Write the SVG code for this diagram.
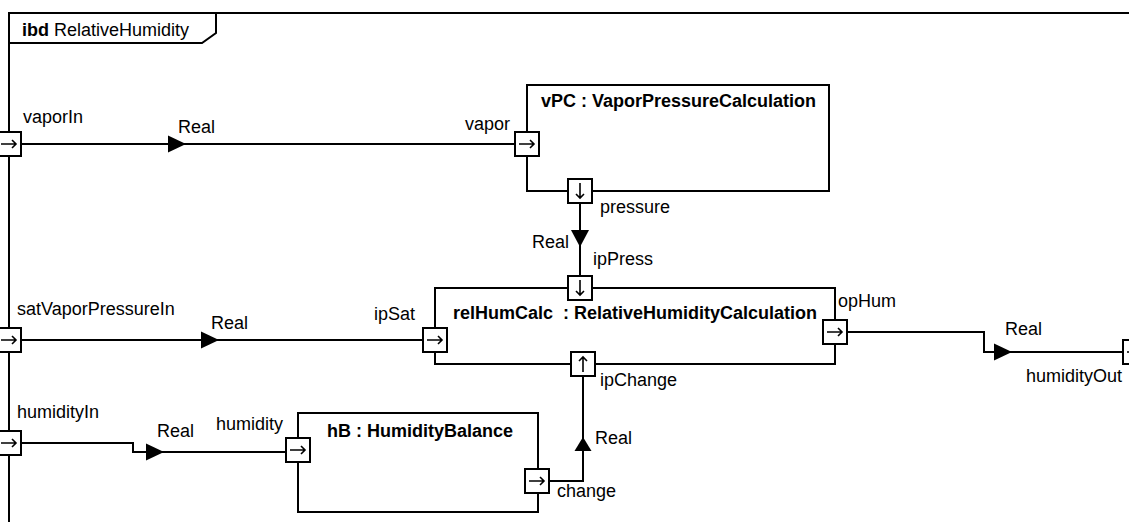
<svg xmlns="http://www.w3.org/2000/svg" xmlns:xlink="http://www.w3.org/1999/xlink" width="1129" height="522" viewBox="0 0 1129 522">
<style>
text{font-family:"Liberation Sans",Arial,sans-serif;font-size:18px;fill:#000}
.b{font-weight:bold}
.box{fill:#fff;stroke:#000;stroke-width:2}
.port{fill:#fff;stroke:#000;stroke-width:2}
.g{fill:none;stroke:#000;stroke-width:1.6}
.c{fill:none;stroke:#000;stroke-width:2}
.ah{fill:#000;stroke:none}
</style>
<defs>
<g id="pR"><rect class="port" x="-12" y="-12" width="24" height="24"/><path class="g" d="M-8,0H7M3,-4L7,0L3,4"/></g>
<g id="pD"><rect class="port" x="-12" y="-12" width="24" height="24"/><path class="g" d="M0,-8V7M-4,3L0,7L4,3"/></g>
<g id="pU"><rect class="port" x="-12" y="-12" width="24" height="24"/><path class="g" d="M0,8V-7M-4,-3L0,-7L4,-3"/></g>
</defs>

<g id="frame">
<path class="c" d="M9,522V13H1129"/>
<path class="c" d="M9,43H202L216,33V13"/>
<text x="22" y="36"><tspan class="b">ibd</tspan> RelativeHumidity</text>
</g>

<g id="connectors">
<path class="c" d="M21,144H515"/>
<polygon class="ah" points="168,135.5 186,144 168,152.5"/>
<text x="178" y="133">Real</text>

<path class="c" d="M580,203V276"/>
<polygon class="ah" points="571,230 589,230 580,247"/>
<text x="532" y="248">Real</text>

<path class="c" d="M21,340H423"/>
<polygon class="ah" points="201,331.5 219,340 201,348.5"/>
<text x="211" y="329">Real</text>

<path class="c" d="M847,332H984V352H1123"/>
<polygon class="ah" points="994,343.5 1012,352 994,360.5"/>
<text x="1005" y="335">Real</text>

<path class="c" d="M21,443H133V452H286"/>
<polygon class="ah" points="146,443.5 164,452 146,460.5"/>
<text x="157" y="437">Real</text>

<path class="c" d="M549,481H583V376"/>
<polygon class="ah" points="583,437 591.5,451 574.5,451"/>
<text x="595" y="444">Real</text>
</g>

<g id="vaporIn"><use xlink:href="#pR" x="9" y="144"/><text x="23" y="123">vaporIn</text></g>
<g id="satVaporPressureIn"><use xlink:href="#pR" x="9" y="340"/><text x="17" y="315">satVaporPressureIn</text></g>
<g id="humidityIn"><use xlink:href="#pR" x="9" y="443"/><text x="17" y="418">humidityIn</text></g>
<g id="humidityOut"><use xlink:href="#pR" x="1135" y="352"/><text x="1122" y="382" text-anchor="end">humidityOut</text></g>

<g id="vPC">
<rect class="box" x="527" y="85" width="302" height="106"/>
<text class="b" x="541" y="107">vPC : VaporPressureCalculation</text>
<use xlink:href="#pR" x="527" y="144"/>
<text x="510" y="130" text-anchor="end">vapor</text>
<use xlink:href="#pD" x="580" y="191"/>
<text x="600" y="213">pressure</text>
</g>

<g id="relHumCalc">
<rect class="box" x="435" y="288" width="400" height="76"/>
<text class="b" x="453" y="319" xml:space="preserve">relHumCalc  : RelativeHumidityCalculation</text>
<use xlink:href="#pD" x="580" y="288"/>
<text x="593" y="265">ipPress</text>
<use xlink:href="#pR" x="435" y="340"/>
<text x="415" y="320" text-anchor="end">ipSat</text>
<use xlink:href="#pR" x="835" y="332"/>
<text x="838" y="307">opHum</text>
<use xlink:href="#pU" x="583" y="364"/>
<text x="600" y="386">ipChange</text>
</g>

<g id="hB">
<rect class="box" x="298" y="413" width="240" height="99"/>
<text class="b" x="327" y="437">hB : HumidityBalance</text>
<use xlink:href="#pR" x="298" y="450"/>
<text x="283" y="430" text-anchor="end">humidity</text>
<use xlink:href="#pR" x="537" y="481"/>
<text x="557" y="497">change</text>
</g>
</svg>
